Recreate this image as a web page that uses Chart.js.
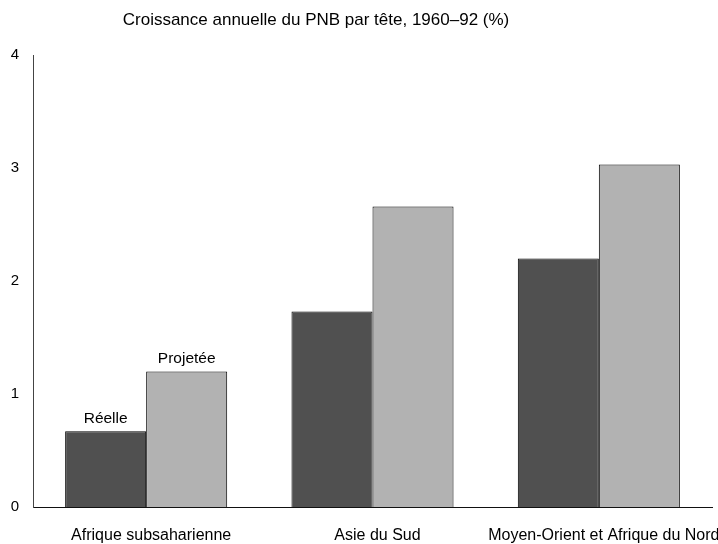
<!DOCTYPE html>
<html>
<head>
<meta charset="utf-8">
<script src="https://cdn.jsdelivr.net/npm/chart.js@4/dist/chart.umd.min.js"></script>
<style>
  html, body { margin: 0; padding: 0; background: #fff; }
  #wrap { width: 718px; height: 544px; }
</style>
</head>
<body>
<div id="wrap"><canvas id="chart" width="718" height="544"></canvas></div>
<script>
// data
var regions = ['Afrique subsaharienne', 'Asie du Sud', 'Moyen-Orient et Afrique du Nord'];
var reelle = [0.67, 1.73, 2.20];
var projetee = [1.20, 2.66, 3.03];
var seriesNames = ['Réelle', 'Projetée'];
var yTicks = [0, 1, 2, 3, 4];
var titleText = 'Croissance annuelle du PNB par tête, 1960–92 (%)';

var fontFam = '"Liberation Sans", Arial, sans-serif';

// title + series labels over the first group
var textPlugin = {
	id: 'texts',
	afterDraw: function(chart) {
		var ctx = chart.ctx;
		ctx.save();
		ctx.fillStyle = '#000';
		ctx.font = '17px ' + fontFam;
		ctx.textAlign = 'center';
		ctx.textBaseline = 'middle';
		ctx.fillText(titleText, 316, 20);
		ctx.font = '15.5px ' + fontFam;
		for (var d = 0; d < 2; d++) {
			var bar = chart.getDatasetMeta(d).data[0];
			ctx.fillText(seriesNames[d], bar.x, bar.y - 13);
		}
		ctx.restore();
	}
};

var ctx = document.getElementById('chart').getContext('2d');
var chart = new Chart(ctx, {
	type: 'bar',
	data: {
		labels: regions,
		datasets: [
			{
				label: seriesNames[0],
				data: reelle,
				backgroundColor: '#505050',
				borderColor: '#000',
				borderWidth: 1,
				borderSkipped: 'bottom'
			},
			{
				label: seriesNames[1],
				data: projetee,
				backgroundColor: '#b2b2b2',
				borderColor: '#000',
				borderWidth: 1,
				borderSkipped: 'bottom'
			}
		]
	},
	options: {
		responsive: false,
		animation: false,
		layout: { padding: { top: 55, right: 6, left: 0, bottom: 0 } },
		categoryPercentage: 0.716,
		barPercentage: 1.0,
		plugins: {
			legend: { display: false },
			title: { display: false },
			tooltip: { enabled: false }
		},
		scales: {
			x: {
				grid: { display: false, drawTicks: false },
				border: { display: true, color: '#111', width: 1 },
				ticks: {
					color: '#000',
					font: { family: fontFam, size: 16 },
					padding: 19,
					labelOffset: 5,
					maxRotation: 0,
					autoSkip: false
				},
				afterFit: function(scale) {
					scale.height = 37;
					scale.paddingLeft = 0;
					scale.paddingRight = 0;
				}
			},
			y: {
				min: 0,
				max: 4,
				afterBuildTicks: function(scale) {
					scale.ticks = yTicks.map(function(v) { return { value: v }; });
				},
				grid: { display: false, drawTicks: false },
				border: { display: true, color: '#444', width: 1 },
				ticks: {
					color: '#000',
					font: { family: fontFam, size: 15 },
					padding: 14
				},
				afterFit: function(scale) {
					scale.width = 33;
				}
			}
		}
	},
	plugins: [textPlugin]
});
</script>
</body>
</html>
